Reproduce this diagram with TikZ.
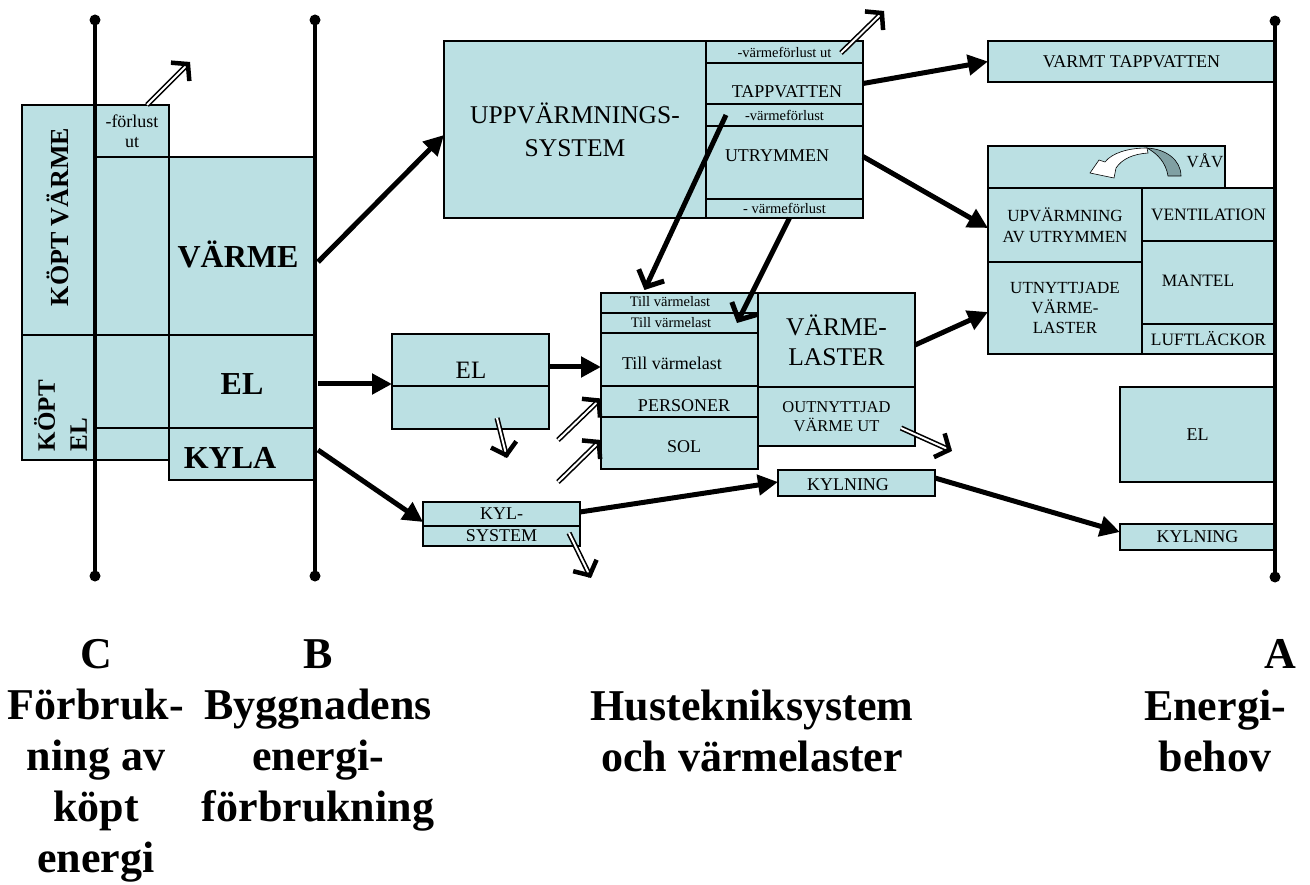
\documentclass[tikz,border=0pt]{standalone}
\usepackage{fontspec}
\setmainfont{Liberation Serif}
\usetikzlibrary{arrows.meta,calc}
\definecolor{boxfill}{RGB}{187,224,227}
\definecolor{ribbon}{RGB}{128,160,163}
\newcommand\fsz[2]{\fontsize{#1}{#2}\selectfont}
% \bx[options]{name}{x1}{y1}{x2}{y2}{text}: cell with top-left (x1,y1), bottom-right (x2,y2)
\newcommand\bx[7][]{%
  \pgfmathsetmacro\bxw{#5-#3}%
  \pgfmathsetmacro\bxh{#6-#4}%
  \node[box, minimum width=\bxw pt, minimum height=\bxh pt, #1] (#2) at (#3,#4) {#7};}
% \loss{start}{end}: double-line loss arrow with a heavy open head
\newcommand\loss[2]{%
  \draw[lossline] (#1) -- (#2);
  \draw[losstip] ($(#1)!0.97!(#2)$) -- (#2);}
\tikzset{
  box/.style={draw=black, line width=1.2pt, fill=boxfill, inner sep=0pt, outer sep=0pt,
    anchor=north west, align=center, font=\fsz{18}{21}},
  lbl/.style={inner sep=0pt, outer sep=0pt, align=center, font=\fsz{18}{21}},
  head/.style={inner sep=0pt, outer sep=0pt, align=center, font=\bfseries\fsz{44}{51}},
  axis/.style={line width=4pt},
  dot/.style={circle, fill=black, inner sep=0pt, outer sep=0pt, minimum size=11pt},
  flow/.style={line width=5pt, -{Triangle[length=20pt,width=20pt]}},
  flowopen/.style={line width=5pt, -{Straight Barb[length=13pt,width=28pt,line width=5pt]}},
  lossline/.style={double=white, double distance=2pt, line width=1.6pt, shorten >=3pt},
  losstip/.style={line width=4.5pt, -{Straight Barb[length=11pt,width=26pt,line width=4.5pt]}},
  small/.style={font=\fsz{14.5}{16}},
}
\begin{document}
\begin{tikzpicture}[x=1pt,y=-1pt]
\useasboundingbox (0,0) rectangle (1310,885);

% ---- purchased energy / building energy stack
\bx{kv}{22}{105}{95}{335}{}
\bx{ke}{22}{335}{95}{460}{}
\bx[font=\fsz{18}{20}]{fl}{95}{105}{169}{157}{\rule{0pt}{4pt}-förlust\\ut}
\bx{m1}{95}{157}{169}{335}{}
\bx{m2}{95}{335}{169}{428}{}
\bx{m3}{95}{428}{169}{460}{}
\bx{varme}{169}{157}{315}{335}{}
\bx{el}{169}{335}{315}{428}{}
\bx{kyla}{169}{428}{315}{480}{}
\node[lbl, font=\bfseries\fsz{26}{30}, rotate=90] (tkv) at (58,217) {KÖPT VÄRME};
\node[lbl, font=\bfseries\fsz{25}{32}, rotate=90, align=left, anchor=north west] (tke) at (34,451) {KÖPT\\EL};
\node[lbl, font=\bfseries\fsz{32}{36}, anchor=base] (tvarme) at (238,268) {VÄRME};
\node[lbl, font=\bfseries\fsz{32}{36}, anchor=base] (tel) at (242,395) {EL};
\node[lbl, font=\bfseries\fsz{32}{36}, anchor=base] (tkyla) at (230,468) {KYLA};

% ---- heating system
\bx[font=\fsz{25.5}{33}]{up}{444}{41}{706}{218}{UPPVÄRMNINGS-\\SYSTEM}
\bx[small]{upa}{706}{41}{863}{63}{-värmeförlust ut}
\bx{upb}{706}{63}{863}{104}{}
\bx[small]{upc}{706}{104}{863}{126}{-värmeförlust}
\bx{upd}{706}{126}{863}{199}{}
\bx[small]{upe}{706}{199}{863}{218}{- värmeförlust}
\node[lbl, anchor=base] (tupb) at (787,98) {TAPPVATTEN};
\node[lbl, anchor=base] (tupd) at (777,162) {UTRYMMEN};

% ---- electricity and cooling systems
\bx{elb1}{392}{334}{549}{386}{}
\bx{elb2}{392}{386}{549}{429}{}
\node[lbl, font=\fsz{25}{28}, anchor=base] (telb) at (471,378) {EL};
\bx{ks1}{423}{502}{580}{526}{KYL-}
\bx{ks2}{423}{526}{580}{546}{SYSTEM}

% ---- heat loads
\bx{t1}{601}{293}{758}{313}{}
\bx{t2}{601}{313}{758}{333}{}
\bx{t3}{601}{333}{758}{386}{}
\bx{pers}{601}{386}{758}{417}{}
\bx{sol}{601}{417}{758}{469}{}
\node[lbl, small, anchor=base] (tt1) at (670,307) {Till värmelast};
\node[lbl, small, anchor=base] (tt2) at (671,328) {Till värmelast};
\node[lbl, anchor=base] (tt3) at (672,370) {Till värmelast};
\node[lbl, anchor=base] (tpers) at (684,411) {PERSONER};
\node[lbl, anchor=base] (tsol) at (684,453) {SOL};
\bx[font=\fsz{25.5}{30}]{vl}{758}{293}{915}{387}{VÄRME-\\LASTER}
\bx[font=\fsz{16.5}{19.5}]{ou}{758}{387}{915}{446}{OUTNYTTJAD\\VÄRME UT}
\bx{kym}{778}{470}{935}{496}{}
\node[lbl, anchor=base] (tkym) at (848,490) {KYLNING};

% ---- energy demand
\bx{vt}{988}{41}{1275}{82}{VARMT TAPPVATTEN}
\bx{vav}{988}{146}{1225}{188}{}
\node[lbl, font=\fsz{17}{20}, anchor=base] (tvav) at (1205,168) {VÅV};
\bx[font=\fsz{17}{21}]{upv}{988}{188}{1142}{262}{UPVÄRMNING\\AV UTRYMMEN}
\bx[font=\fsz{17}{20}]{utn}{988}{262}{1142}{354}{UTNYTTJADE\\VÄRME-\\LASTER}
\bx[font=\fsz{17.4}{20}]{vent}{1142}{188}{1275}{241}{VENTILATION}
\bx{mant}{1142}{241}{1275}{324}{}
\node[lbl, font=\fsz{17.4}{20}, anchor=base] (tmant) at (1198,287) {MANTEL};
\bx[font=\fsz{17.4}{20}]{luft}{1142}{324}{1275}{354}{LUFTLÄCKOR}
\bx{elr}{1120}{387}{1275}{482}{EL}
\bx{kyr}{1120}{524}{1275}{550}{KYLNING}

% curved ribbon arrow in the VÅV cell
\filldraw[fill=ribbon, draw=black, line width=0.6pt]
  (1181,176) .. controls (1181,160) and (1166,149) .. (1147,148)
  .. controls (1158,154) and (1166,163) .. (1168,176) -- cycle;
\filldraw[fill=white, draw=black, line width=0.6pt]
  (1147,148) .. controls (1128,148) and (1112,153) .. (1105,162)
  -- (1099,160) -- (1090,173) -- (1114,178) -- (1116,168)
  .. controls (1122,159) and (1133,154) .. (1148,153) -- cycle;

% ---- boundary lines C, B, A
\node[dot] (ctop) at (95,20) {};
\node[dot] (cbot) at (95,576) {};
\node[dot] (btop) at (315,20) {};
\node[dot] (bbot) at (315,576) {};
\node[dot] (atop) at (1275,21) {};
\node[dot] (abot) at (1275,577) {};
\draw[axis] (ctop.center) -- (cbot.center);
\draw[axis] (btop.center) -- (bbot.center);
\draw[axis] (atop.center) -- (abot.center);

% ---- energy flows
\draw[flow] ($(varme.east)+(3,16)$) -- ($(up.west)+(0,5.5)$);
\draw[flow] ($(el.east)+(3,2.5)$) -- ($(elb1.south west)+(0,-2)$);
\draw[flow] ($(kyla.east)+(3,-4)$) -- ($(ks1.south west)+(0,-4)$);
\draw[flow] ($(elb1.east)+(0,7)$) -- ($(t3.west)+(0,7.5)$);
\draw[flowopen] ($(upc.west)+(20,0)$) -- ($(t1.north)+(-35,-3)$);
\draw[flowopen] ($(upe.south)+(5,0)$) -- ($(t2.east)+(-21,0)$);
\draw[flow] (upb.east) -- (vt.west);
\draw[flow] ($(upd.east)+(0,-6)$) -- ($(upv.west)+(0,3)$);
\draw[flow] ($(vl.east)+(0,5)$) -- ($(utn.west)+(0,4)$);
\draw[flow] ($(ks1.east)+(0,-2)$) -- ($(kym.west)+(0,-1)$);
\draw[flow] ($(kym.east)+(0,-5)$) -- ($(kyr.west)+(0,-5)$);

% ---- losses and free gains
\coordinate (h1s) at ($(fl.north)+(15,0)$);
\coordinate (h1e) at (190,62);
\coordinate (h2s) at ($(upa.east)+(-22,1)$);
\coordinate (h2e) at (884,11);
\coordinate (h3s) at ($(elb2.center)+(26.5,10.5)$);
\coordinate (h3e) at (507,458);
\coordinate (h4s) at ($(ks2.east)+(-11,-3)$);
\coordinate (h4e) at (591,578);
\coordinate (h5s) at (558,440);
\coordinate (h5e) at ($(pers.west)+(0,-3)$);
\coordinate (h6s) at (558,482);
\coordinate (h6e) at ($(sol.west)+(0,-3)$);
\coordinate (h7s) at ($(ou.east)+(-14,11.5)$);
\coordinate (h7e) at (952,451);
\loss{h1s}{h1e}
\loss{h2s}{h2e}
\loss{h3s}{h3e}
\loss{h4s}{h4e}
\loss{h5s}{h5e}
\loss{h6s}{h6e}
\loss{h7s}{h7e}

% ---- headings under the lines (anchored at the last line's baseline)
\node[head, anchor=base] (hc) at (96,872) {C\\Förbruk-\\ning av\\köpt\\energi};
\node[head, anchor=base] (hb) at (318,821) {B\\Byggnadens\\energi-\\förbrukning};
\node[head, anchor=base] (hh) at (752,771) {Hustekniksystem\\och värmelaster};
\node[head, anchor=base] (ha) at (1280,668) {A};
\node[head, anchor=base] (hae) at (1215,771) {Energi-\\behov};
\end{tikzpicture}
\end{document}
